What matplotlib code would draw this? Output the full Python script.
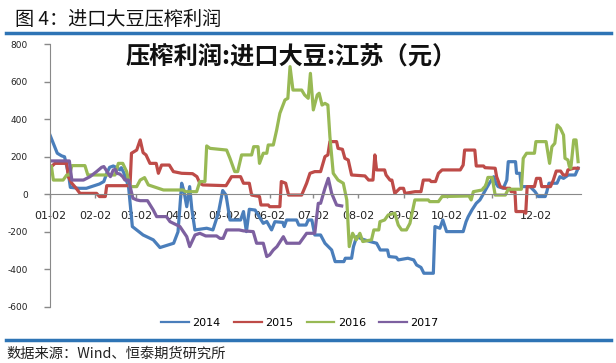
import matplotlib
matplotlib.use("Agg")
import matplotlib.pyplot as plt
import numpy as np

plt.rcParams['font.family'] = ['DejaVu Sans', 'Noto Sans CJK SC']

# ---- data (day offset from Jan-02, value) ----
tick_days = [0, 31, 59, 90, 120, 151, 181, 212, 243, 273, 304, 334]
tick_labels = ['01-02', '02-02', '03-02', '04-02', '05-02', '06-02',
               '07-02', '08-02', '09-02', '10-02', '11-02', '12-02']
yticks = [-600, -400, -200, 0, 200, 400, 600, 800]

d2014 = [0, 5, 8, 10, 12.6, 14, 20, 25, 34, 37, 39, 41, 43.5, 46, 48, 49, 51, 54, 56.6, 64, 71, 75.6, 85, 88,
         90.5, 92, 94, 96, 97.5, 99.6, 107.7, 112, 115.7, 118.7, 121, 123.7, 131, 133, 135, 137, 141, 143,
         146.6, 149, 152.3, 154.6, 160, 161, 162.6, 169.5, 171, 176, 177.5, 180, 182, 186, 189, 193.6, 196,
         202, 203, 207.3, 208.6, 210.8, 215, 220, 224.5, 227, 232, 233, 238, 239.4, 246, 250, 252, 255, 257,
         263.5, 264.6, 268, 270, 272.6, 284, 286, 287.5, 290, 293, 295.5, 297, 300, 302, 305, 306.5, 308,
         311.6, 314, 315, 320, 320.7, 323, 324, 330, 333.4, 335.7, 340.4, 341.5, 343, 348.5, 350.5, 353,
         356.3, 361, 363]
v2014 = [316, 219, 205, 200, 112, 37, 32, 32, 55, 68, 112, 144, 151, 142, 130, 142, 110, 40, -172, -217, -243,
         -284, -261, -200, 59, 20, -66, 41, -80, -190, -181, -190, -101, 20, -4, -137, -137, -92, -199, -80,
         -84, -110, -155, -145, -190, -146, -150, -172, -137, -137, -164, -164, -137, -137, -217, -217, -261,
         -297, -359, -359, -341, -341, -279, -226, -240, -252, -261, -297, -297, -332, -336, -350, -341, -350,
         -377, -390, -421, -421, -172, -181, -137, -199, -199, -146, -119, -84, -48, -30, -10, 32, 59, 94, 59,
         41, 32, 76, 174, 174, 112, 112, 41, 41, 14, -12, -12, 14, 59, 59, 94, 85, 103, 103, 139]

d2015 = [1, 3.4, 11.5, 12.6, 15, 18, 20.6, 32, 34, 38, 39, 55, 56, 59.6, 62, 64, 66, 68.7, 73, 74.5, 76.7, 82,
         84.8, 90.5, 98, 101, 103, 105, 121, 124.8, 131, 133, 137, 138.6, 144, 145, 150, 151, 158, 159, 162,
         164, 173, 176.4, 178.7, 182, 186, 189, 191, 192.4, 197, 198, 201, 202.7, 205, 207.3, 216.5, 219, 222,
         223.3, 224.5, 230, 231, 233.7, 235, 237, 240.5, 243, 244, 251, 255, 256.6, 261, 262, 265, 267, 269.5,
         282, 284, 285, 292, 293, 298, 299, 306, 307, 309.5, 312.7, 316, 317, 319.6, 320.3, 325.3, 327, 328,
         333, 334.4, 337, 338, 344, 346, 348, 351, 352.8, 355, 356, 360, 363]
v2015 = [148, 165, 165, 94, 59, 32, 5, 5, -12, -12, 46, 46, 219, 236, 290, 222, 210, 165, 165, 112, 156, 156,
         121, 112, 110, 94, 59, 50, 46, 94, 94, 59, 59, -4, -12, -57, -57, -66, -66, 68, 59, -4, -4, 59, 112,
         121, 121, 201, 210, 281, 281, 245, 240, 192, 183, 103, 98, 76, 76, 210, 130, 130, 103, 76, 76, 5, 32,
         32, 5, 14, 14, 76, 76, 68, 68, 112, 130, 130, 156, 236, 236, 151, 151, 142, 139, 94, 41, 32, 32, 14,
         14, -92, -92, -101, 41, 41, 85, 85, 41, 41, 76, 124, 124, 103, 103, 130, 139, 139]

d2016 = [1, 2.3, 9, 11.5, 13.5, 15, 24, 26, 44.7, 47, 50, 52.7, 55, 59.6, 62, 65, 67.6, 78, 91.6, 93, 100.8, 103,
         106.5, 107.7, 110, 121.4, 123.7, 127, 129, 131.7, 138.6, 140, 143, 144, 146.6, 149, 150, 153.5, 155.8,
         158, 161.5, 163.5, 165, 167, 173, 175, 177.5, 179, 181, 183.7, 185, 187, 189, 191, 192.4, 194.7, 198,
         201.6, 204, 205.7, 208, 210.5, 213, 215, 221, 222.6, 226, 226.8, 230, 232.5, 237, 239.4, 241.7, 245,
         247.4, 250.8, 260, 261, 267, 269.5, 288, 289.5, 291, 297, 297.8, 299, 300, 301, 304, 305, 306, 313,
         315, 324, 325.3, 327.6, 333, 334, 341, 343.4, 345, 347, 348.6, 350.8, 353, 354, 356, 357, 358, 360,
         361.6, 363]
v2016 = [148, 76, 76, 103, 103, 153, 153, 103, 103, 165, 165, 121, 41, 41, 76, 89, 50, 23, 23, 14, 14, 68, 68,
         258, 245, 236, 192, 121, 121, 210, 210, 254, 254, 165, 219, 219, 263, 263, 343, 432, 503, 512, 681,
         556, 556, 530, 512, 645, 450, 530, 539, 476, 485, 476, 308, 112, 76, 59, -30, -279, -208, -243, -208,
         -252, -243, -190, -190, -146, -137, -110, -101, -164, -190, -190, -155, -30, -30, -39, -39, -12, -9,
         -30, 14, 23, 32, 41, 59, 90, 90, 41, -4, -4, 27, 27, 192, 219, 219, 281, 281, 165, 254, 272, 370, 352,
         316, 192, 183, 148, 139, 290, 290, 174]

d2017 = [0, 13.3, 15, 23, 27.5, 32, 35.5, 37, 40, 41.5, 43.5, 45, 46, 48, 50, 51.5, 54, 57, 59.6, 62, 67, 71,
         73.3, 80, 82.5, 89.3, 94, 96, 99.7, 103, 107, 114.5, 116.8, 119, 121.4, 130, 133, 139.7, 142, 146.6,
         149, 151, 153.5, 156, 160.4, 162.7, 171.5, 176.4, 182, 184.4, 186, 189, 191.3, 193.6, 197, 200.5]
v2017 = [178, 178, 76, 76, 94, 121, 144, 148, 112, 94, 130, 133, 112, 108, 94, 76, 76, -21, -30, -34, -34, -84,
         -119, -119, -146, -172, -226, -279, -217, -208, -222, -222, -235, -235, -190, -190, -195, -199, -261,
         -261, -332, -323, -297, -279, -226, -261, -261, -208, -208, -48, -48, 32, 85, 5, -57, -62]

series = [('2014', d2014, v2014, '#4A7EBB'),
          ('2015', d2015, v2015, '#BE4B48'),
          ('2016', d2016, v2016, '#98B954'),
          ('2017', d2017, v2017, '#7D60A0')]

W, H = 616, 363
fig = plt.figure(figsize=(W / 100, H / 100), dpi=100)
ax = fig.add_axes([50 / W, 1 - 306.8 / H, 531 / W, (306.8 - 44.3) / H])

for name, d, v, c in series:
    ax.plot(d, v, color=c, lw=2.3, label=name, solid_joinstyle='round')

ax.set_xlim(0, 365)
ax.set_ylim(-600, 800)
ax.set_yticks(yticks)
ax.set_yticklabels([str(t) for t in yticks])
ax.set_xticks(tick_days)
ax.set_xticklabels(tick_labels)

grey = '#898989'
for s in ['top', 'right']:
    ax.spines[s].set_visible(False)
ax.spines['bottom'].set_position(('data', 0))
ax.spines['bottom'].set_color(grey)
ax.spines['left'].set_color(grey)
ax.tick_params(axis='y', direction='out', length=4, width=1, color=grey, pad=12, labelsize=6.5)
ax.tick_params(axis='x', direction='out', length=3, width=1, color=grey, pad=9, labelsize=8)
for lab in ax.get_xticklabels() + ax.get_yticklabels():
    lab.set_color('#222222')

fig.text(291.5 / W, 1 - 57 / H, '压榨利润:进口大豆:江苏（元）', ha='center', va='center',
         fontsize=17.5, fontweight='bold', family=['Noto Sans CJK SC', 'DejaVu Sans'], color='#111111')

leg = fig.legend(loc='center', bbox_to_anchor=(300 / W, 1 - 323.3 / H), ncol=4, frameon=False,
                 fontsize=8, handlelength=2.5, handletextpad=0.3, columnspacing=1.2)
for line in leg.get_lines():
    line.set_linewidth(1.6)

# header and footer
fig.text(15 / W, 1 - 19.5 / H, '图 4：进口大豆压榨利润', ha='left', va='center', fontsize=13.8,
         family=['Noto Sans CJK SC', 'DejaVu Sans'], color='#111111')
blue = '#2E74B5'
fig.add_artist(plt.Line2D([6 / W, 611 / W], [1 - 32.5 / H, 1 - 32.5 / H], color=blue, lw=2.5,
                          transform=fig.transFigure))
fig.add_artist(plt.Line2D([6 / W, 611 / W], [1 - 339.5 / H, 1 - 339.5 / H], color=blue, lw=2.5,
                          transform=fig.transFigure))
fig.text(6 / W, 1 - 353.5 / H, '数据来源：Wind、恒泰期货研究所', ha='left', va='center', fontsize=10.3,
         family=['Noto Sans CJK SC', 'DejaVu Sans'], color='#222222')

fig.savefig('out.png', dpi=100)
